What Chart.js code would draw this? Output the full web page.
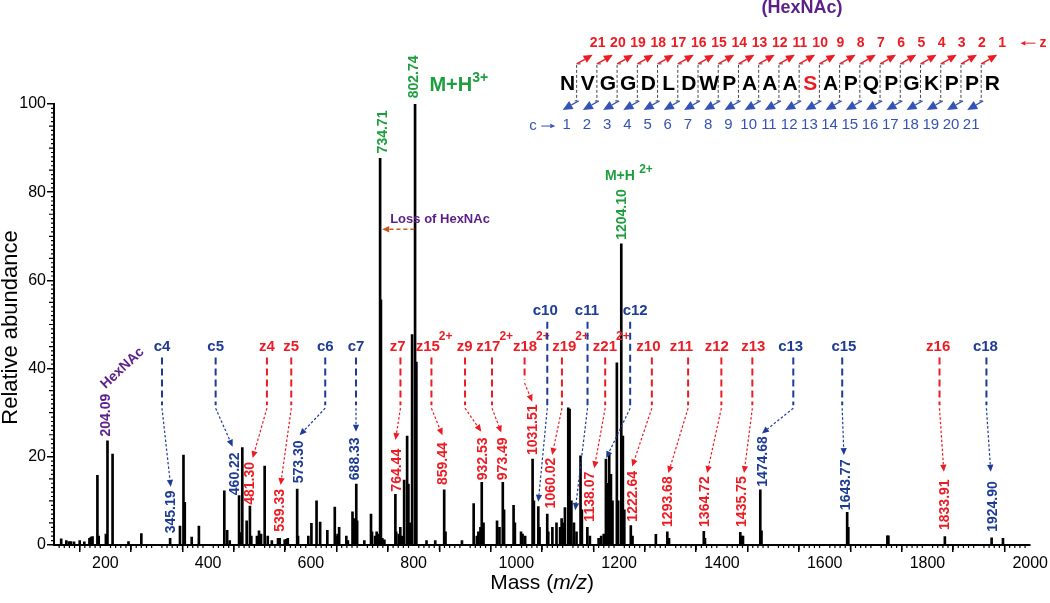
<!DOCTYPE html>
<html>
<head>
<meta charset="utf-8">
<script src="https://cdn.jsdelivr.net/npm/chart.js@4.4.0/dist/chart.umd.min.js"></script>
<style>
  html, body { margin: 0; padding: 0; background: #fff; }
  #wrap { width: 1050px; height: 603px; }
</style>
</head>
<body>
<div id="wrap"><canvas id="spectrum" width="1050" height="603"></canvas></div>
<script>
// peaks: m/z and relative abundance
const peakMass = [
  114, 124, 129, 133, 139, 150, 159, 169, 172, 175, 184.5, 187, 201, 204.09, 214, 245, 270,
  326, 345.19, 352, 354.5, 368, 382, 431.5, 437, 442, 460.22, 462, 466.5, 475, 481.30, 484,
  495, 499, 503, 510, 516, 524, 536, 539.33, 549, 552, 555, 573.30, 575, 595, 601, 611, 618,
  632, 646.5, 648, 652, 655, 669, 672, 681, 684, 688.33, 690, 704, 717, 719, 725, 728, 731,
  734.71, 736.3, 739, 743, 764.44, 766, 771, 774, 777, 781.5, 787.3, 789.8, 793, 797, 802.74,
  805.3, 825, 842, 859.44, 862, 894, 916.8, 923, 926, 930, 932.53, 936, 962.3, 967, 973.49,
  976, 994.5, 997, 1009, 1012, 1017, 1031.51, 1034, 1042.6, 1045, 1060.02, 1062, 1070, 1078,
  1085, 1088, 1091, 1094.4, 1100.9, 1103.5, 1107, 1112, 1117, 1124.8, 1127.4, 1138.07, 1143,
  1160, 1165, 1170, 1174.2, 1177, 1180.6, 1184, 1187, 1195.5, 1198, 1204.10, 1207.2, 1210,
  1222.64, 1226, 1271.4, 1293.68, 1297, 1364.72, 1367, 1435.75, 1438, 1441, 1474.68, 1477,
  1643.77, 1646, 1722, 1724, 1833.91, 1924.90, 1947
];
const peakAbundance = [
  1.4, 1.0, 0.8, 0.8, 0.7, 1.0, 0.7, 1.5, 1.8, 1.9, 15.8, 2.0, 2.5, 23.6, 20.6, 0.8, 2.6,
  1.5, 4.3, 20.4, 9.7, 1.8, 4.3, 12.3, 3.3, 1.0, 11.2, 2.8, 22.1, 5.5, 8.8, 2.0,
  2.0, 3.2, 2.5, 17.9, 2.0, 1.0, 1.5, 1.5, 1.2, 1.3, 1.5, 12.7, 2.0, 2.0, 4.9, 10.0, 5.2,
  3.3, 8.6, 2.0, 2.5, 4.0, 2.0, 1.0, 7.5, 6.0, 13.8, 5.5, 1.0, 7.0, 3.0, 2.0, 3.0, 2.5,
  87.7, 55.6, 1.5, 1.2, 11.5, 3.0, 2.5, 4.0, 2.0, 14.7, 24.7, 13.8, 5.0, 47.7, 100,
  41.5, 1.0, 1.0, 12.5, 3.0, 1.0, 9.4, 2.0, 3.0, 4.0, 14.2, 5.0, 5.5, 4.0, 14.2,
  8.0, 9.0, 5.0, 3.0, 2.5, 2.0, 19.5, 10.0, 8.7, 4.0, 7.0, 3.0, 4.0, 5.0,
  4.0, 6.0, 5.0, 8.5, 31.1, 30.8, 10.0, 5.0, 3.0, 20.2, 8.0, 4.0, 2.0,
  1.5, 2.0, 2.5, 19.5, 14.0, 20.6, 16.0, 10.0, 41.3, 10.0, 68.3, 24.7, 8.0,
  4.4, 2.0, 2.4, 3.0, 1.5, 3.1, 1.5, 2.9, 2.0, 2.0, 12.5, 3.2,
  7.4, 4.0, 2.1, 2.1, 1.9, 1.6, 1.5
];

// axis range and labelled ticks
const massMin = 100, massMax = 2000, massLabelStep = 200;
const abundanceMax = 100, abundanceStep = 20;

// peptide sequence with fragment numbering
const sequence = ['N','V','G','G','D','L','D','W','P','A','A','A','S','A','P','Q','P','G','K','P','P','R'];
const glycoSite = 12;

const FONT = "'Liberation Sans', Arial, sans-serif";
const RED = '#ec1c24', BLUE = '#1e3c94', GREEN = '#1f9e40', PURPLE = '#5a1f8a', ORANGE = '#c65a1e', ARROW_BLUE = '#3553b5';

// ion annotations (positions in m/z and abundance units)
const ionLabels = [
  { ion: 'c4',  color: BLUE, lx: 310.2,  dx: 310.2,  tip: [327.2, 13.2], val: '345.19',  vx: 327.2,  vy: 2.65 },
  { ion: 'c5',  color: BLUE, lx: 414.6,  dx: 414.6,  tip: [447.7, 22.3], val: '460.22',  vx: 453,    vy: 11.3 },
  { ion: 'z4',  color: RED,  lx: 514.4,  dx: 514.4,  tip: [486.6, 19.7], val: '481.30',  vx: 482.1,  vy: 9.1 },
  { ion: 'z5',  color: RED,  lx: 561.8,  dx: 561.8,  tip: [541.0, 13.6], val: '539.33',  vx: 541,    vy: 3.0 },
  { ion: 'c6',  color: BLUE, lx: 627.9,  dx: 627.9,  tip: [578, 24.9],   val: '573.30',  vx: 576.6,  vy: 14.0 },
  { ion: 'c7',  color: BLUE, lx: 687.8,  dx: 687.8,  tip: [687.8, 25.7], val: '688.33',  vx: 686.8,  vy: 14.7 },
  { ion: 'z7',  color: RED,  lx: 769.0,  dx: 774.3,  tip: [764.6, 23.8], val: '764.44',  vx: 767.1,  vy: 12.1 },
  { ion: 'z15', sup: '2+', color: RED, lx: 827.4, dx: 834.6, tip: [856, 24.9], val: '859.44', vx: 857.9, vy: 13.6 },
  { ion: 'z9',  color: RED,  lx: 899.3,  dx: 900,    tip: [931.7, 25.7], val: '932.53',  vx: 934.3,  vy: 14.7 },
  { ion: 'z17', sup: '2+', color: RED, lx: 945.3, dx: 952.5, tip: [970.6, 25.5], val: '973.49', vx: 975.1, vy: 14.7 },
  { ion: 'z18', sup: '2+', color: RED, lx: 1016.7, dx: 1015.9, dashEnd: 37.4, tip: [1030.9, 32.5], val: '1031.51', vx: 1033.4, vy: 20.4 },
  { ion: 'c10', row: 1, color: BLUE, lx: 1056.2, dx: 1060.1, tip: [1042.6, 9.8] },
  { ion: 'z19', sup: '2+', color: RED, lx: 1093.1, dx: 1088.6, tip: [1069.6, 20.4], val: '1060.02', vx: 1068.4, vy: 8.3 },
  { ion: 'c11', row: 1, color: BLUE, lx: 1137.2, dx: 1138.4, tip: [1114.5, 7.9] },
  { ion: 'z21', sup: '2+', color: RED, lx: 1172.2, dx: 1172.8, tip: [1151.4, 17.4], val: '1138.07', vx: 1143.6, vy: 5.3 },
  { ion: 'c12', row: 1, color: BLUE, lx: 1231.1, dx: 1221.4, tip: [1174.8, 19.7] },
  { ion: 'z10', color: RED,  lx: 1257.0, dx: 1263.6, tip: [1225.3, 17.8], val: '1222.64', vx: 1227.2, vy: 5.3 },
  { ion: 'z11', color: RED,  lx: 1321.1, dx: 1334.2, tip: [1295.7, 16.3], val: '1293.68', vx: 1295.7, vy: 4.1 },
  { ion: 'z12', color: RED,  lx: 1389.9, dx: 1398.9, tip: [1371.2, 16.3], val: '1364.72', vx: 1366.6, vy: 4.1 },
  { ion: 'z13', color: RED,  lx: 1461.1, dx: 1459.2, tip: [1443.1, 16.3], val: '1435.75', vx: 1438.6, vy: 4.1 },
  { ion: 'c13', color: BLUE, lx: 1533.8, dx: 1538.9, tip: [1478.0, 25.3], val: '1474.68', vx: 1480.5, vy: 13.2 },
  { ion: 'c15', color: BLUE, lx: 1637.4, dx: 1634.1, tip: [1637.4, 20.4], val: '1643.77', vx: 1642.7, vy: 7.9 },
  { ion: 'z16', color: RED,  lx: 1820.8, dx: 1823.5, tip: [1831.9, 16.6], val: '1833.91', vx: 1835.1, vy: 3.4 },
  { ion: 'c18', color: BLUE, lx: 1912.9, dx: 1914.8, tip: [1923.2, 16.6], val: '1924.90', vx: 1927.7, vy: 3.0 }
];

function arrowLine(ctx, x1, y1, x2, y2, color, width, dash, head) {
  const a = Math.atan2(y2 - y1, x2 - x1);
  const bx = x2 - head * Math.cos(a), by = y2 - head * Math.sin(a);
  ctx.save();
  ctx.strokeStyle = color;
  ctx.fillStyle = color;
  ctx.lineWidth = width;
  ctx.setLineDash(dash);
  ctx.beginPath();
  ctx.moveTo(x1, y1);
  ctx.lineTo(bx, by);
  ctx.stroke();
  ctx.setLineDash([]);
  const w = head * 0.45;
  ctx.beginPath();
  ctx.moveTo(x2, y2);
  ctx.lineTo(bx + w * Math.sin(a), by - w * Math.cos(a));
  ctx.lineTo(bx - w * Math.sin(a), by + w * Math.cos(a));
  ctx.closePath();
  ctx.fill();
  ctx.restore();
}

function vText(ctx, txt, x, y, color, font) {
  ctx.save();
  ctx.translate(x, y);
  ctx.rotate(-Math.PI / 2);
  ctx.font = font;
  ctx.fillStyle = color;
  ctx.textAlign = 'left';
  ctx.textBaseline = 'middle';
  ctx.fillText(txt, 0, 0);
  ctx.restore();
}

function text(ctx, txt, x, y, color, font, align) {
  ctx.font = font;
  ctx.fillStyle = color;
  ctx.textAlign = align || 'center';
  ctx.textBaseline = 'middle';
  ctx.fillText(txt, x, y);
}

const annotationPlugin = {
  id: 'spectrumNotes',
  afterDraw(chart) {
    const ctx = chart.ctx;
    const xs = chart.scales.x, ys = chart.scales.y;
    const X = m => xs.getPixelForValue(m);
    const Y = v => ys.getPixelForValue(v);
    const area = chart.chartArea;
    const valFont = `bold 14px ${FONT}`;
    ctx.save();

    // minor ticks
    ctx.strokeStyle = '#000';
    ctx.lineWidth = 1.2;
    ctx.beginPath();
    for (let m = massMin; m <= massMax; m += 10) {
      if (m % 100 === 0) continue;
      const len = m % 50 === 0 ? 5 : 3;
      ctx.moveTo(X(m), area.bottom);
      ctx.lineTo(X(m), area.bottom + len);
    }
    for (let v = 0; v <= abundanceMax; v += 1) {
      if (v % abundanceStep === 0) continue;
      const len = v % 5 === 0 ? 5 : 3;
      ctx.moveTo(area.left, Y(v));
      ctx.lineTo(area.left - len, Y(v));
    }
    ctx.stroke();

    // axis titles
    ctx.save();
    ctx.translate(11, (area.top + area.bottom) / 2 + 3);
    ctx.rotate(-Math.PI / 2);
    text(ctx, 'Relative abundance', 0, 0, '#000', `22px ${FONT}`);
    ctx.restore();
    const parts = [['Mass (', `21px ${FONT}`], ['m/z', `italic 21px ${FONT}`], [')', `21px ${FONT}`]];
    let total = 0;
    parts.forEach(p => { ctx.font = p[1]; total += ctx.measureText(p[0]).width; });
    let tx = X(1050) - total / 2;
    parts.forEach(p => {
      text(ctx, p[0], tx, 583, '#000', p[1], 'left');
      ctx.font = p[1];
      tx += ctx.measureText(p[0]).width;
    });

    // ion labels with dashed guides and arrows
    ionLabels.forEach(a => {
      const labV = a.row ? 53.1 : 45.0;
      const lxp = X(a.lx), lyp = Y(labV);
      ctx.font = `bold 15px ${FONT}`;
      const w = ctx.measureText(a.ion).width;
      text(ctx, a.ion, lxp, lyp, a.color, `bold 15px ${FONT}`);
      if (a.sup) text(ctx, a.sup, lxp + w / 2 - 1, lyp - 10, a.color, `bold 12px ${FONT}`, 'left');
      const dxp = X(a.dx);
      const dEnd = Y(a.dashEnd || 31.7);
      ctx.save();
      ctx.strokeStyle = a.color;
      ctx.lineWidth = 2;
      ctx.setLineDash([7, 4]);
      ctx.beginPath();
      ctx.moveTo(dxp, lyp + 11);
      ctx.lineTo(dxp, dEnd);
      ctx.stroke();
      ctx.restore();
      arrowLine(ctx, dxp, dEnd + 3, X(a.tip[0]), Y(a.tip[1]), a.color, 1.2, [2.5, 2], 7);
      if (a.val) vText(ctx, a.val, X(a.vx), Y(a.vy), a.color, valFont);
    });

    // purple HexNAc oxonium ion
    vText(ctx, '204.09', X(202.2), Y(24.6), PURPLE, valFont);
    ctx.save();
    ctx.translate(X(233.3), Y(40.1));
    ctx.rotate(-43 * Math.PI / 180);
    text(ctx, 'HexNAc', 0, 0, PURPLE, `bold 14px ${FONT}`);
    ctx.restore();

    // precursor ions
    vText(ctx, '734.71', X(739.9), Y(88.8), GREEN, valFont);
    vText(ctx, '802.74', X(801.5), Y(101.3), GREEN, valFont);
    text(ctx, 'M+H', X(830.7), Y(104.3), GREEN, `bold 20px ${FONT}`, 'left');
    ctx.font = `bold 20px ${FONT}`;
    text(ctx, '3+', X(830.7) + ctx.measureText('M+H').width, Y(105.9), GREEN, `bold 14px ${FONT}`, 'left');
    text(ctx, 'Loss of HexNAc', X(754.3), Y(73.9), PURPLE, `bold 13px ${FONT}`, 'left');
    arrowLine(ctx, X(801.5), Y(71.6), X(738.7), Y(71.6), ORANGE, 1.5, [4, 3], 7);
    vText(ctx, '1204.10', X(1205.3), Y(69.2), GREEN, valFont);
    text(ctx, 'M+H', X(1172.2), Y(83.7), GREEN, `bold 14px ${FONT}`, 'left');
    text(ctx, '2+', X(1238.9), Y(85.2), GREEN, `bold 12px ${FONT}`, 'left');

    // peptide sequence with c/z fragment map
    const seqStart = 1099.5, seqStep = 39.37;
    sequence.forEach((r, i) => {
      text(ctx, r, X(seqStart + i * seqStep), Y(102.8) - 7, i === glycoSite ? RED : '#000', `bold 21px ${FONT}`);
    });
    for (let k = 0; k < sequence.length - 1; k++) {
      const xb = X(seqStart + (k + 0.5) * seqStep) - 1;
      const yt = Y(109.1), yb = Y(100.7);
      ctx.save();
      ctx.strokeStyle = '#444';
      ctx.lineWidth = 1;
      ctx.setLineDash([3, 2]);
      ctx.beginPath();
      ctx.moveTo(xb + 4, yt);
      ctx.lineTo(xb, yt);
      ctx.lineTo(xb, yb);
      ctx.lineTo(xb - 3, yb);
      ctx.stroke();
      ctx.restore();
      arrowLine(ctx, xb, yt, xb + 16, yt - 9, RED, 1.4, [], 9);
      arrowLine(ctx, xb + 2, yb, xb - 14, yb + 9, ARROW_BLUE, 1.4, [], 10);
      text(ctx, String(sequence.length - 1 - k), xb + 21, Y(113.8), RED, `bold 14px ${FONT}`);
      text(ctx, String(k + 1), xb - 10, Y(95.2), ARROW_BLUE, `15px ${FONT}`);
    }
    text(ctx, 'c', X(1025), Y(95.0), ARROW_BLUE, `15px ${FONT}`, 'left');
    arrowLine(ctx, X(1025) + 12, Y(95.0), X(1025) + 26, Y(95.0), ARROW_BLUE, 1, [], 5);
    arrowLine(ctx, X(1981) + 15, Y(113.8), X(1981), Y(113.8), RED, 1, [], 5);
    text(ctx, 'z', X(1981) + 19, Y(113.8), RED, `bold 14px ${FONT}`, 'left');
    text(ctx, '(HexNAc)', X(1555.8), Y(120.4) - 6, PURPLE, `bold 18px ${FONT}`);

    ctx.restore();
  }
};

const peaks = peakMass.map((m, i) => ({ x: m, y: peakAbundance[i] }));

new Chart(document.getElementById('spectrum'), {
  type: 'bar',
  data: {
    datasets: [{
      label: 'ETD spectrum',
      data: peaks,
      backgroundColor: '#000',
      borderWidth: 0,
      barThickness: 2
    }]
  },
  options: {
    responsive: false,
    animation: false,
    devicePixelRatio: 1,
    layout: { padding: { top: 104, right: 18, left: 0, bottom: 0 } },
    plugins: { legend: { display: false }, tooltip: { enabled: false } },
    scales: {
      x: {
        type: 'linear',
        min: massMin,
        max: massMax,
        offset: false,
        afterFit: s => { s.height = 58; },
        border: { display: true, color: '#000', width: 2 },
        grid: { drawOnChartArea: false, drawTicks: true, tickLength: 7, color: '#000', lineWidth: 1.5 },
        ticks: {
          stepSize: 100,
          autoSkip: false,
          maxRotation: 0,
          padding: 2,
          color: '#000',
          font: { family: "'Liberation Sans Narrow', 'Liberation Sans', Arial", size: 16 },
          callback: v => (v % massLabelStep === 0 ? String(v) : '')
        }
      },
      y: {
        min: 0,
        max: abundanceMax,
        afterFit: s => { s.width = 54; },
        border: { display: true, color: '#000', width: 2 },
        grid: { drawOnChartArea: false, drawTicks: true, tickLength: 7, color: '#000', lineWidth: 1.5 },
        ticks: {
          stepSize: abundanceStep,
          padding: 1,
          color: '#000',
          font: { family: "'Liberation Sans Narrow', 'Liberation Sans', Arial", size: 16 }
        }
      }
    }
  },
  plugins: [annotationPlugin]
});
</script>
</body>
</html>
